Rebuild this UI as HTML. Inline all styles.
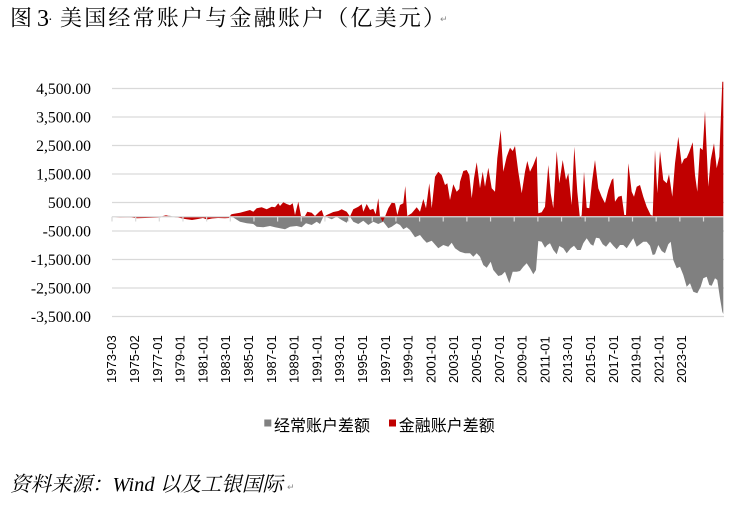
<!DOCTYPE html>
<html>
<head>
<meta charset="utf-8">
<style>
  html,body{margin:0;padding:0;background:#fff;}
  body{width:738px;height:511px;overflow:hidden;position:relative;}
  svg{position:absolute;left:0;top:0;}
</style>
</head>
<body>
<svg width="738" height="511" viewBox="0 0 738 511" xmlns="http://www.w3.org/2000/svg">
  <rect x="0" y="0" width="738" height="511" fill="#ffffff"/>

  <!-- Title -->
  <text x="10" y="25.5" font-family="'Liberation Serif','Noto Serif CJK SC',serif" font-size="22" fill="#000">图</text>
  <text x="37" y="26" font-family="'Liberation Serif',serif" font-size="24" fill="#000">3</text>
  <text x="48" y="24" font-family="'Liberation Serif',serif" font-size="14" fill="#000">·</text>
  <text x="60" y="25.5" font-family="'Liberation Serif','Noto Serif CJK SC',serif" font-size="22" letter-spacing="2.2" fill="#000">美国经常账户与金融账户（亿美元）</text>
  <text x="440" y="22" font-family="'DejaVu Sans',sans-serif" font-size="9" fill="#888">↵</text>

  <!-- Gridlines -->
  <g stroke="#d9d9d9" stroke-width="1.3">
    <line x1="112" y1="88.5" x2="724" y2="88.5"/>
    <line x1="112" y1="117" x2="724" y2="117"/>
    <line x1="112" y1="145.5" x2="724" y2="145.5"/>
    <line x1="112" y1="174" x2="724" y2="174"/>
    <line x1="112" y1="202.5" x2="724" y2="202.5"/>
    <line x1="112" y1="231" x2="724" y2="231"/>
    <line x1="112" y1="259.5" x2="724" y2="259.5"/>
    <line x1="112" y1="288" x2="724" y2="288"/>
    <line x1="112" y1="316.5" x2="724" y2="316.5"/>
  </g>

  <!-- Y labels -->
  <g font-family="'Liberation Serif',serif" font-size="15.7" fill="#000" text-anchor="end">
    <text x="91" y="93.8">4,500.00</text>
    <text x="91" y="122.3">3,500.00</text>
    <text x="91" y="150.8">2,500.00</text>
    <text x="91" y="179.3">1,500.00</text>
    <text x="91" y="207.8">500.00</text>
    <text x="91" y="236.3">-500.00</text>
    <text x="91" y="264.8">-1,500.00</text>
    <text x="91" y="293.3">-2,500.00</text>
    <text x="91" y="321.8">-3,500.00</text>
  </g>

  <!-- Current account (gray) -->
  <path fill="#808080" d="M112,216.75 L130,217.3 150,217.5 160,217 165,216 170,215.8 175,217.3 190,217.5 200,217 215,217.5 230,216.75 233.3,217.5 240,221.7 246.7,223.3 253.3,224 256.7,226.7 263.3,227.3 270,226 275,227.3 280,228.3 285,229.3 290,226.7 296.7,226 301.7,227.3 306,223.3 311.7,225 316.7,221.7 320,224 323.3,216.75 326.7,217.3 331.7,219.3 336.7,216.75 341.7,220 346.7,222.7 350,216.75 353.3,221.7 358.3,224 363.3,220.7 368.3,225 373.3,221.7 378.3,224 383.3,221.7 388.3,228.3 391.7,226.7 396.7,223.3 400,225 403.3,229.3 406.7,227.3 410,230 415,237.3 420,235 423.3,239.3 426.7,242.7 431.7,240.7 438.3,248.3 443.3,245 448.3,246.7 451.7,242.7 455,248.3 460,251.7 465,253.3 470,253.3 473.3,256.7 476.7,253.3 480,256.7 483.3,265 486.7,267.7 490.7,261.7 493.3,270 498.3,276 501.7,275 505,271.7 509.3,283.3 512.7,271.7 516.7,271.7 520,271 523.3,266.7 526.7,263.3 530,268.3 533.3,274.3 536,270 538.3,241 541.7,241.7 545,247.7 547.3,245 550,243.3 553.3,250 556.7,254.3 559.3,246 563.3,248.3 566.7,253.3 570.7,248.3 574,245.7 577.3,250 580.7,250 583.3,243.3 586.7,238.3 590.7,244.3 593.3,245.7 596,237.7 599.3,238.3 602.7,244.3 606,246.7 610,241.7 613.3,245.7 616.7,249.3 620,245 623.3,245 626.7,248.3 630,243.3 633.3,238.3 636.7,246.7 640,244.3 643.3,241.7 646.7,241.7 650,245.7 652.7,255 655,254.3 658.3,245 661.7,251 665,253.3 668.3,244.3 670.7,241.7 673.3,260 676.7,268.3 680,266.7 683.3,275 686.7,286.7 690,283.3 693.3,291.7 697.3,293.3 700.7,286.7 703.3,278.3 706.7,276.7 709.3,285 711.7,285.7 715,278.3 717.3,280 720,298.3 722.3,311.7 723.3,314 723.3,216.75 Z"/>

  <!-- Financial account (red) -->
  <path fill="#c00000" d="M112,216.75 L120,217.5 130,217.2 137,218.3 145,218 152,217.8 160,217.5 163,216 166,215.3 169,216 172,216.75 178,217.5 185,219 192,220 198,219 203,218 207,219.5 212,218.5 218,218 225,218.3 229,218 231,214.5 232.7,214 240,212.7 250,210 253.3,211.7 256.7,208.3 261.7,207.3 266.7,209.3 271.7,206.7 275,207.3 278.3,203.3 280,206 283.3,202.3 286.7,204 290,205.3 292.7,203.3 295,215 298.3,201.7 301,216 305,216 307.3,211.7 311.7,212.7 315,216 319.3,211.7 321.7,210 324,216.75 326.7,215 333.3,212 338.3,211 341.7,209.3 346.7,211.7 350,216.5 353.3,209.3 358.3,206.7 361.7,204.3 363.3,211.7 366.7,204 370,210 373.3,208.7 375.7,214.3 378.3,198.3 380,216.75 382.7,221.7 385,216.75 388.3,208.3 391.7,202.7 395,203.3 397.3,215 400,205 403.3,203.3 405.3,186 407.3,216 411.7,213.3 416.7,207.3 420,211.7 423.3,199 426,208.3 429.3,183.3 431.7,208.3 435,176.7 438.3,171.7 441.7,175 445,185 447.3,183.3 450,200 453.3,184.3 456.7,191.7 459.3,189 460,181.7 463.3,171 466.7,170 469.3,175 471.7,198.3 474,178.3 476.7,162.3 480,188.3 482.7,171.7 485,186.7 488.3,167.7 491.7,188.3 495,191.7 497.3,158.3 500.7,130 503.3,171.7 506.7,156.7 510,147.7 512.7,151 515,146 518.3,171.7 521.7,193.3 525,171.7 527.3,161 530,171.7 533.3,165 536.7,156 538.3,213.3 541.7,212.3 545,206.7 548.3,165 550.7,193.3 553.3,208.3 556.7,151 559.3,183.3 562.7,160 566,180 568.3,173.3 571.7,205 574.3,146.7 577.3,191.7 580,219 581.7,215 584,171.7 586.7,207.7 589.3,208.3 592,181.7 595,160 598.3,188.3 601.7,196.7 605,203.3 608.3,190 611.7,180 613.3,178.3 615,201.7 618.3,196.7 621.7,195.7 624.3,215 626,215 628.3,163.3 631.7,191.7 634,196.7 636.7,186.7 640,185 643.3,196.7 646.7,206.7 650.7,215 652.7,215.7 655,150 657.3,193.3 660,151 663.3,180 666.7,183.3 669,174.3 672.3,196.7 675,163.3 678.3,136.7 681.7,164.3 684,159 686.7,157.7 689.3,151.7 692.7,142.3 695,175 697.3,191.7 700,147.7 702.7,150 705,111 708.3,186.7 710.7,160 714,143.3 716.7,168.3 719.3,156.7 722.3,81.7 723.3,81.7 723.3,216.75 Z"/>

  <!-- Zero axis and ticks -->
  <line x1="112" y1="216.75" x2="723.5" y2="216.75" stroke="#d9d9d9" stroke-width="1.3"/>
  <g stroke="#d9d9d9" stroke-width="1.2">
    <line x1="112" y1="216.75" x2="112" y2="221.5"/>
    <line x1="135.66" y1="216.75" x2="135.66" y2="221.5"/>
    <line x1="159.32" y1="216.75" x2="159.32" y2="221.5"/>
    <line x1="182.98" y1="216.75" x2="182.98" y2="221.5"/>
    <line x1="206.64" y1="216.75" x2="206.64" y2="221.5"/>
    <line x1="230.3" y1="216.75" x2="230.3" y2="221.5"/>
    <line x1="253.96" y1="216.75" x2="253.96" y2="221.5"/>
    <line x1="277.62" y1="216.75" x2="277.62" y2="221.5"/>
    <line x1="301.28" y1="216.75" x2="301.28" y2="221.5"/>
    <line x1="324.94" y1="216.75" x2="324.94" y2="221.5"/>
    <line x1="348.6" y1="216.75" x2="348.6" y2="221.5"/>
    <line x1="372.26" y1="216.75" x2="372.26" y2="221.5"/>
    <line x1="395.92" y1="216.75" x2="395.92" y2="221.5"/>
    <line x1="419.58" y1="216.75" x2="419.58" y2="221.5"/>
    <line x1="443.24" y1="216.75" x2="443.24" y2="221.5"/>
    <line x1="466.9" y1="216.75" x2="466.9" y2="221.5"/>
    <line x1="490.56" y1="216.75" x2="490.56" y2="221.5"/>
    <line x1="514.22" y1="216.75" x2="514.22" y2="221.5"/>
    <line x1="537.88" y1="216.75" x2="537.88" y2="221.5"/>
    <line x1="561.54" y1="216.75" x2="561.54" y2="221.5"/>
    <line x1="585.2" y1="216.75" x2="585.2" y2="221.5"/>
    <line x1="608.86" y1="216.75" x2="608.86" y2="221.5"/>
    <line x1="632.52" y1="216.75" x2="632.52" y2="221.5"/>
    <line x1="656.18" y1="216.75" x2="656.18" y2="221.5"/>
    <line x1="679.84" y1="216.75" x2="679.84" y2="221.5"/>
    <line x1="703.5" y1="216.75" x2="703.5" y2="221.5"/>
  </g>

  <!-- X labels -->
  <g font-family="'Liberation Sans',sans-serif" font-size="13" fill="#000">
    <text transform="translate(116.2,383) rotate(-90)">1973-03</text>
    <text transform="translate(139,383) rotate(-90)">1975-02</text>
    <text transform="translate(161.8,383) rotate(-90)">1977-01</text>
    <text transform="translate(184.6,383) rotate(-90)">1979-01</text>
    <text transform="translate(207.4,383) rotate(-90)">1981-01</text>
    <text transform="translate(230.2,383) rotate(-90)">1983-01</text>
    <text transform="translate(253,383) rotate(-90)">1985-01</text>
    <text transform="translate(275.8,383) rotate(-90)">1987-01</text>
    <text transform="translate(298.6,383) rotate(-90)">1989-01</text>
    <text transform="translate(321.4,383) rotate(-90)">1991-01</text>
    <text transform="translate(344.2,383) rotate(-90)">1993-01</text>
    <text transform="translate(367,383) rotate(-90)">1995-01</text>
    <text transform="translate(389.8,383) rotate(-90)">1997-01</text>
    <text transform="translate(412.6,383) rotate(-90)">1999-01</text>
    <text transform="translate(435.4,383) rotate(-90)">2001-01</text>
    <text transform="translate(458.2,383) rotate(-90)">2003-01</text>
    <text transform="translate(481,383) rotate(-90)">2005-01</text>
    <text transform="translate(503.8,383) rotate(-90)">2007-01</text>
    <text transform="translate(526.6,383) rotate(-90)">2009-01</text>
    <text transform="translate(549.4,383) rotate(-90)">2011-01</text>
    <text transform="translate(572.2,383) rotate(-90)">2013-01</text>
    <text transform="translate(595,383) rotate(-90)">2015-01</text>
    <text transform="translate(617.8,383) rotate(-90)">2017-01</text>
    <text transform="translate(640.6,383) rotate(-90)">2019-01</text>
    <text transform="translate(663.4,383) rotate(-90)">2021-01</text>
    <text transform="translate(686.2,383) rotate(-90)">2023-01</text>
  </g>

  <!-- Legend -->
  <rect x="264.3" y="419.5" width="7" height="7" fill="#808080"/>
  <text x="274" y="431" font-family="'Liberation Sans','Noto Sans CJK SC',sans-serif" font-size="16" fill="#000">经常账户差额</text>
  <rect x="389" y="419.5" width="7" height="7" fill="#c00000"/>
  <text x="398.7" y="431" font-family="'Liberation Sans','Noto Sans CJK SC',sans-serif" font-size="16" fill="#000">金融账户差额</text>

  <!-- Source -->
  <text x="10" y="491" font-family="'Liberation Serif','Noto Serif CJK SC',serif" font-size="20.5" font-style="italic" fill="#000">资料来源：<tspan font-family="'Liberation Serif',serif">Wind</tspan> 以及工银国际</text>
  <text x="287" y="490" font-family="'DejaVu Sans',sans-serif" font-size="9" fill="#888">↵</text>
</svg>
</body>
</html>
